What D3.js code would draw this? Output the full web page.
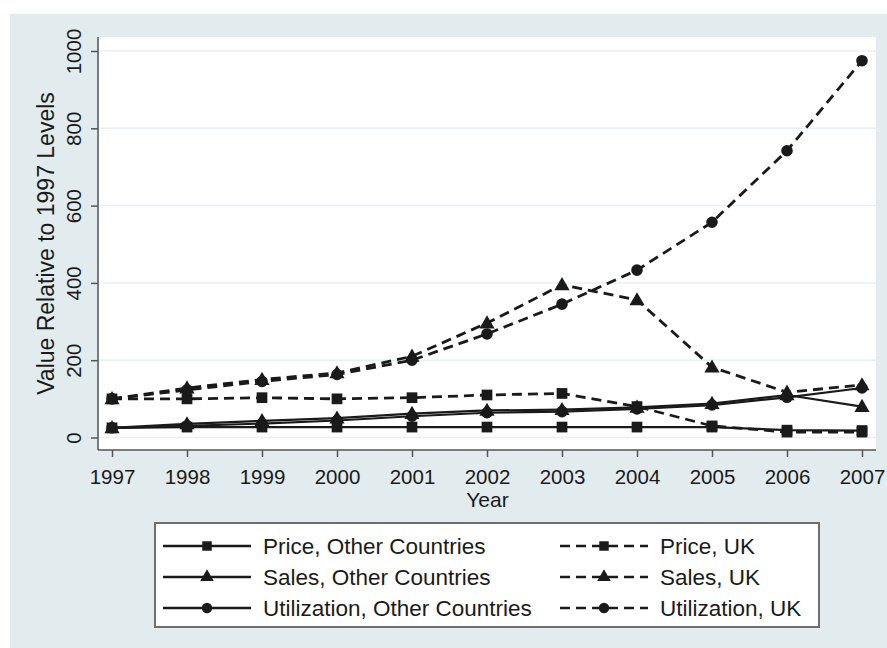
<!DOCTYPE html>
<html>
<head>
<meta charset="utf-8">
<script src="https://cdn.jsdelivr.net/npm/d3@7"></script>
<style>
  body { margin: 0; background: #fff; }
  svg { display: block; font-family: "Liberation Sans", Arial, sans-serif; }
</style>
</head>
<body>
<script>
// ---- data ----
const years = [1997, 1998, 1999, 2000, 2001, 2002, 2003, 2004, 2005, 2006, 2007];
const priceOther = [25, 27, 27, 27, 27, 27, 27, 27, 27, 19, 18];
const salesOther = [25, 35, 43, 50, 62, 70, 72, 78, 88, 110, 80];
const utilOther  = [25, 30, 36, 44, 55, 64, 67, 74, 84, 104, 128];
const priceUK    = [100, 100, 103, 100, 103, 110, 114, 80, 30, 14, 14];
const salesUK    = [100, 128, 150, 167, 210, 296, 395, 356, 182, 117, 136];
const utilUK     = [100, 123, 145, 163, 200, 268, 345, 433, 557, 742, 975];
const yTicks = [0, 200, 400, 600, 800, 1000];

const series = [
  { name: "Price, Other Countries", values: priceOther, marker: "square", dashed: false },
  { name: "Sales, Other Countries", values: salesOther, marker: "triangle", dashed: false },
  { name: "Utilization, Other Countries", values: utilOther, marker: "circle", dashed: false },
  { name: "Price, UK", values: priceUK, marker: "square", dashed: true },
  { name: "Sales, UK", values: salesUK, marker: "triangle", dashed: true },
  { name: "Utilization, UK", values: utilUK, marker: "circle", dashed: true }
];

// ---- layout ----
const width = 887, height = 648;
const plot = { left: 99, right: 876, top: 37, bottom: 450 };
const ink = "#1a1a1a";

const svg = d3.select("body").append("svg")
  .attr("width", width)
  .attr("height", height);

svg.append("rect")
  .attr("x", 10).attr("y", 14)
  .attr("width", width - 10).attr("height", height - 14)
  .attr("fill", "#e2ecef");

svg.append("rect")
  .attr("x", plot.left).attr("y", plot.top)
  .attr("width", plot.right - plot.left).attr("height", plot.bottom - plot.top)
  .attr("fill", "#fff");

const x = d3.scaleLinear().domain([1997, 2007]).range([112, 862]);
const y = d3.scaleLinear().domain([0, 1000]).range([437.5, 51]);

// gridlines
svg.append("g")
  .selectAll("line")
  .data(yTicks)
  .join("line")
  .attr("x1", plot.left + 1).attr("x2", plot.right)
  .attr("y1", d => y(d)).attr("y2", d => y(d))
  .attr("stroke", "#e6f0f1")
  .attr("stroke-width", 1.5);

// y axis
const yAxis = svg.append("g")
  .attr("transform", `translate(${plot.left - 1},0)`)
  .call(d3.axisLeft(y).tickValues(yTicks).tickFormat(d3.format("d")).tickSize(7).tickSizeOuter(0));
yAxis.select(".domain").attr("d", `M0,${plot.top}V${plot.bottom}`).attr("stroke", "#555").attr("stroke-width", 1.5);
yAxis.selectAll(".tick line").attr("stroke", "#555").attr("stroke-width", 1.5);
yAxis.selectAll(".tick text")
  .attr("transform", "rotate(-90)")
  .attr("x", 0).attr("y", -17).attr("dy", 0)
  .attr("text-anchor", "middle")
  .attr("font-size", 20.5)
  .attr("fill", ink);

svg.append("text")
  .attr("transform", `translate(54,${(plot.top + plot.bottom) / 2}) rotate(-90)`)
  .attr("text-anchor", "middle")
  .attr("font-size", 23)
  .attr("fill", ink)
  .text("Value Relative to 1997 Levels");

// x axis
const xAxis = svg.append("g")
  .attr("transform", `translate(0,${plot.bottom})`)
  .call(d3.axisBottom(x).tickValues(years).tickFormat(d3.format("d")).tickSize(7).tickSizeOuter(0));
xAxis.select(".domain").attr("d", `M${plot.left - 1},0H${plot.right}`).attr("stroke", "#555").attr("stroke-width", 1.5);
xAxis.selectAll(".tick line").attr("stroke", "#555").attr("stroke-width", 1.5);
xAxis.selectAll(".tick text")
  .attr("y", 34).attr("dy", 0)
  .attr("font-size", 20.5)
  .attr("fill", ink);

svg.append("text")
  .attr("x", (plot.left + plot.right) / 2)
  .attr("y", 507)
  .attr("text-anchor", "middle")
  .attr("font-size", 21)
  .attr("fill", ink)
  .text("Year");

// markers
const symbolOf = {
  square: d3.symbol().type(d3.symbolSquare).size(115),
  triangle: d3.symbol().type(d3.symbolTriangle).size(100),
  circle: d3.symbol().type(d3.symbolCircle).size(105)
};

const line = d3.line()
  .x((d, i) => x(years[i]))
  .y(d => y(d));

const lines = svg.append("g");
series.forEach(s => {
  lines.append("path")
    .attr("d", line(s.values))
    .attr("fill", "none")
    .attr("stroke", ink)
    .attr("stroke-width", s.dashed ? 2.8 : 2.2)
    .attr("stroke-dasharray", s.dashed ? "10,6" : null);
});
series.forEach(s => {
  lines.append("g")
    .selectAll("path")
    .data(s.values)
    .join("path")
    .attr("transform", (d, i) => `translate(${x(years[i])},${y(d) + (s.marker === "triangle" ? 1 : 0)})`)
    .attr("d", symbolOf[s.marker])
    .attr("fill", ink);
});

// legend
const legend = svg.append("g");
legend.append("rect")
  .attr("x", 155).attr("y", 523)
  .attr("width", 664).attr("height", 104)
  .attr("fill", "#fff")
  .attr("stroke", "#6e6e6e")
  .attr("stroke-width", 2);

const legendSym = {
  square: d3.symbol().type(d3.symbolSquare).size(90),
  triangle: d3.symbol().type(d3.symbolTriangle).size(80),
  circle: d3.symbol().type(d3.symbolCircle).size(85)
};

series.forEach((s, i) => {
  const col = s.dashed ? 1 : 0;
  const row = i % 3;
  const x0 = col ? 560 : 163;
  const cy = 546 + row * 31;
  const g = legend.append("g").attr("transform", `translate(${x0},${cy})`);
  g.append("line")
    .attr("x1", 0).attr("x2", 88)
    .attr("stroke", ink)
    .attr("stroke-width", 2.4)
    .attr("stroke-dasharray", s.dashed ? "10,6" : null);
  g.append("path")
    .attr("transform", "translate(44,0)")
    .attr("d", legendSym[s.marker])
    .attr("fill", ink);
  g.append("text")
    .attr("x", 100)
    .attr("y", 8)
    .attr("font-size", 22.5)
    .attr("fill", ink)
    .text(s.name);
});
</script>
</body>
</html>
